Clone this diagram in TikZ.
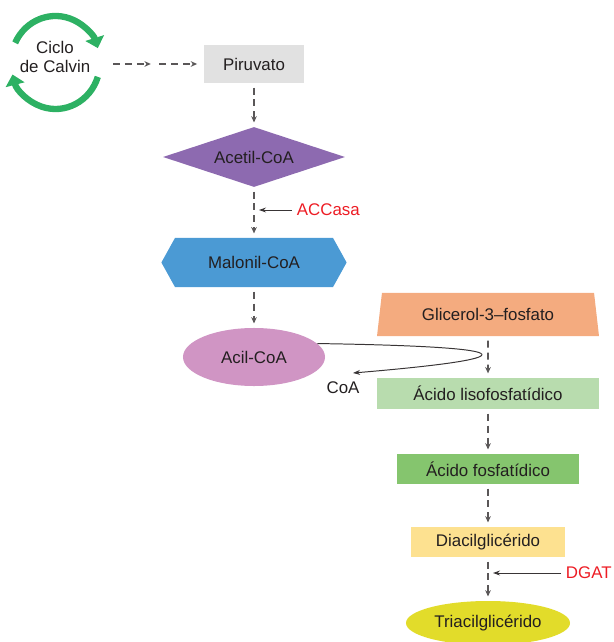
\documentclass[tikz,border=0pt]{standalone}
\usepackage{fontspec}
\setmainfont{Liberation Sans}
\usepackage{xcolor}
\usepackage{tikz}
\usetikzlibrary{arrows.meta,shapes.geometric,shapes.symbols}
\definecolor{txt}{HTML}{231F20}
\definecolor{rojo}{HTML}{ED1C24}
\definecolor{verde}{HTML}{2DB163}
\definecolor{gris}{HTML}{E1E1E1}
\definecolor{morado}{HTML}{8D6AB0}
\definecolor{azul}{HTML}{4B9AD4}
\definecolor{rosa}{HTML}{D095C4}
\definecolor{salmon}{HTML}{F4AB7F}
\definecolor{verdeclaro}{HTML}{B8DCAE}
\definecolor{verdemed}{HTML}{85C56E}
\definecolor{crema}{HTML}{FDE190}
\definecolor{amarillo}{HTML}{E2DC2A}
\tikzset{
	paso/.style={draw=txt!75,line width=1.1pt,dash pattern=on 5pt off 3.5pt,-{Stealth[length=4.5pt,width=4pt]},shorten <=3pt,shorten >=3pt},
	enzima/.style={draw=txt!90,line width=0.7pt,-{Stealth[length=5pt,width=3.5pt]}},
	caja/.style={fill=#1,inner sep=0pt,text=txt},
	ciclo/.style={verde,line width=4.5pt,-{Triangle[length=7.5pt,width=13.5pt]}}
}

\begin{document}
\begin{tikzpicture}[x=0.025cm,y=0.025cm,font=\fontsize{12}{14}\selectfont]
		\useasboundingbox (0,0) rectangle (613,-642);
		% ciclo de Calvin
		\coordinate (cc) at (55.5,-62.5);
		\draw[ciclo] (cc) ++(155:44.5 and 46.5) arc [start angle=155,end angle=18,x radius=44.5,y radius=46.5];
		\draw[ciclo] (cc) ++(-18:44.5 and 46.5) arc [start angle=-18,end angle=-165,x radius=44.5,y radius=46.5];
		\node[align=center,text=txt] (calvin) at (55,-57) {Ciclo\\de Calvin};
		
		\node[caja=gris,minimum width=2.48cm,minimum height=0.95cm] (piruvato) at (254,-64) {Piruvato};
		\node[caja=morado,diamond,aspect=3,minimum width=4.55cm,minimum height=1.5cm] (acetil) at (254,-157) {Acetil-CoA};
		\node[caja=azul,signal,signal to=west and east,signal pointer angle=122,minimum width=4.63cm,minimum height=1.23cm] (malonil) at (254,-262.5) {Malonil-CoA};
		\node[caja=rosa,ellipse,minimum width=3.55cm,minimum height=1.45cm] (acil) at (254,-357) {Acil-CoA};
		\node[text=txt] (coa) at (343,-388) {CoA};
		
		\node[caja=salmon,trapezium,trapezium stretches=true,trapezium left angle=76,trapezium right angle=76,minimum width=5.58cm,minimum height=1.08cm] (glicerol) at (488,-314.5) {Glicerol-3–fosfato};
		\node[caja=verdeclaro,minimum width=5.53cm,minimum height=0.78cm] (liso) at (488,-393.5) {Ácido lisofosfatídico};
		\node[caja=verdemed,minimum width=4.53cm,minimum height=0.75cm] (fosfat) at (488,-469) {Ácido fosfatídico};
		\node[caja=crema,minimum width=3.83cm,minimum height=0.75cm] (diacil) at (488,-542) {Diacilglicérido};
		\node[caja=amarillo,ellipse,minimum width=4.1cm,minimum height=1.1cm] (triacil) at (488,-623) {Triacilglicérido};
		
		\node[text=rojo,anchor=west] (accasa) at (292,-210) {ACCasa};
		\node[text=rojo,anchor=west] (dgat) at (561,-573) {DGAT};
		\coordinate (a1) at (259,-210);
		\coordinate (d1) at (493,-573);
		\coordinate (k1) at (113,-64);
		\coordinate (k2) at (155,-64);
		\coordinate (c1) at (353,-373);
		
		\draw[paso,shorten <=0pt] (k1) -- (k2);
		\draw[paso,shorten >=5pt] (k2) -- (piruvato);
		\draw[paso] (piruvato.south) -- (acetil.north);
		\draw[paso] (acetil.south) -- (malonil.north);
		\draw[paso] (malonil.south) -- (acil.north);
		\draw[paso] (glicerol.south) -- (liso.north);
		\draw[paso] (liso.south) -- (fosfat.north);
		\draw[paso] (fosfat.south) -- (diacil.north);
		\draw[paso] (diacil.south) -- (triacil.north);
		
		\draw[enzima] (accasa) -- (a1);
		\draw[enzima] (dgat) -- (d1);
		\draw[enzima] (acil.12) .. controls (540,-347) and (520,-359) .. (c1);
	\end{tikzpicture}
\end{document}
